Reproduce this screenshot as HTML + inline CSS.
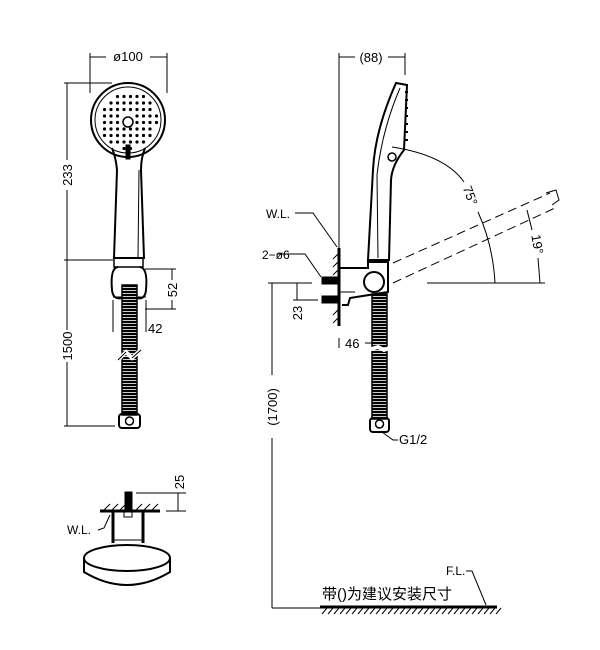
<!DOCTYPE html>
<html><head><meta charset="utf-8"><style>
html,body{margin:0;padding:0;background:#fff;width:600px;height:650px;overflow:hidden}
svg{display:block}
text{font-family:"Liberation Sans","Noto Sans CJK SC",sans-serif;fill:#000}
</style></head><body>
<svg id="s" width="600" height="650" viewBox="0 0 600 650" xmlns="http://www.w3.org/2000/svg">
<defs>
<pattern id="coil" width="4" height="3" patternUnits="userSpaceOnUse"><rect width="4" height="3" fill="#fff"/><rect y="0" width="4" height="2.2" fill="#000"/></pattern>
</defs>
<g fill="none" stroke="#000" stroke-width="1">
<line x1="90" y1="53" x2="90" y2="93"/><line x1="167" y1="53" x2="167" y2="93"/>
<line x1="90" y1="57" x2="106" y2="57"/><line x1="150" y1="57" x2="167" y2="57"/>
<line x1="67" y1="83" x2="67" y2="160"/><line x1="67" y1="190" x2="67" y2="330"/><line x1="67" y1="362" x2="67" y2="426"/>
<line x1="64" y1="83" x2="112" y2="83"/><line x1="64" y1="260" x2="113" y2="260"/><line x1="64" y1="426" x2="115" y2="426"/>
<line x1="145" y1="269" x2="176" y2="269"/><line x1="145" y1="309" x2="176" y2="309"/><line x1="172" y1="269" x2="172" y2="280"/><line x1="172" y1="300" x2="172" y2="309"/>
<line x1="113" y1="300" x2="113" y2="332"/><line x1="146" y1="300" x2="146" y2="332"/>
<circle cx="128" cy="120" r="37" stroke-width="2"/>
<circle cx="128" cy="120" r="33"/>
<circle cx="128" cy="122" r="5" stroke-width="1.5"/>
<rect x="126" y="145" width="4" height="14" fill="#000"/>
<path d="M112,148 Q116,158 117,170 L114,258 L144,258 L141,170 Q141,158 145,148" stroke-width="2"/>
<line x1="139" y1="170" x2="138" y2="258"/>
<rect x="114" y="258" width="29" height="9" stroke-width="1.5"/>
<path d="M118,267 Q110,268 112,290 Q113,300 122,298" stroke-width="2"/>
<path d="M140,267 Q148,268 146,290 Q145,300 137,298" stroke-width="2"/>
<line x1="113" y1="297" x2="146" y2="297"/>
<rect x="122" y="285" width="15" height="130" fill="url(#coil)" stroke-width="1.5"/>
<path d="M118,360 L126,352 L132,358 L141,350" stroke="#fff" stroke-width="4"/>
<path d="M118,360 L126,352 M132,358 L141,350"/>
<rect x="119" y="414" width="21" height="14" rx="3" stroke-width="2"/>
<circle cx="129.5" cy="421" r="4" stroke-width="1.5"/>

<line x1="100" y1="511" x2="160" y2="511" stroke-width="3"/>
<path d="M104,510 l6,-6 M112,510 l6,-6 M120,510 l6,-6 M136,510 l6,-6 M144,510 l6,-6 M152,510 l6,-6"/>
<rect x="125" y="492" width="7" height="22" fill="#000"/>
<rect x="124" y="512" width="8" height="5" fill="#fff"/>
<line x1="113" y1="512" x2="113" y2="543" stroke-width="3"/><line x1="143" y1="512" x2="143" y2="543" stroke-width="3"/>
<line x1="114" y1="540" x2="143" y2="540"/>
<ellipse cx="127" cy="558" rx="43" ry="13" stroke-width="2" fill="#fff"/>
<path d="M84,558 L84,572 Q127,598 170,572 L170,558" stroke-width="2"/>
<line x1="136" y1="493" x2="186" y2="493"/><line x1="166" y1="511" x2="186" y2="511"/><line x1="178" y1="493" x2="178" y2="511"/>
<path d="M98,530 L104,528 L110,515"/>

<line x1="339" y1="53" x2="339" y2="270"/><line x1="405" y1="53" x2="405" y2="75"/>
<line x1="339" y1="57" x2="355" y2="57"/><line x1="388" y1="57" x2="405" y2="57"/>
<line x1="339" y1="248" x2="339" y2="326" stroke-width="3"/>
<path d="M338,254 l-5,5 M338,262 l-5,5 M338,270 l-5,5 M338,310 l-5,5 M338,318 l-5,5"/>
<path d="M396,83 L407,85 L404,150 Q392,165 391,180 L389,260 L368,260 L373,170 Q375,130 396,83 Z" stroke-width="2"/>
<path d="M400,88 Q382,130 377,175 L378,258"/>
<path d="M405,92 l3,0 M405,100 l3,0 M405,108 l3,0 M405,116 l3,0 M405,124 l3,0 M405,132 l3,0 M405,140 l3,0" stroke-width="2"/>
<circle cx="392" cy="157" r="4" stroke-width="1.5"/>
<path d="M339,268 L368,268 L368,262 L388,262 L388,292 L350,298 L348,305 L342,305" stroke-width="2"/>
<circle cx="374" cy="282" r="10" stroke-width="2" fill="#fff"/>
<rect x="322" y="277" width="17" height="7" fill="#000"/><rect x="322" y="296" width="17" height="7" fill="#000"/>
<line x1="339" y1="292" x2="355" y2="292"/>
<rect x="372" y="294" width="15" height="125" fill="url(#coil)" stroke-width="1.5"/>
<path d="M368,350 L378,347 L384,350 L392,347" stroke="#fff" stroke-width="4"/>
<rect x="370" y="418" width="19" height="14" rx="3" stroke-width="2"/>
<circle cx="379.5" cy="424" r="4" stroke-width="1.5"/>
<path d="M382,432 L393,440 L398,440"/>
<g stroke-dasharray="9,5">
<line x1="393" y1="263" x2="550" y2="193"/>
<line x1="393" y1="283" x2="555" y2="208"/>
</g>
<path d="M546,193 L556,190 L559,200 L552,205"/>
<line x1="427" y1="283" x2="545" y2="283"/>
<path d="M392,147 Q445,155 464,182"/>
<path d="M478,212 Q493,245 495,283"/>
<line x1="527" y1="210" x2="532" y2="230"/><line x1="538" y1="258" x2="540" y2="283"/>
<path d="M295,213 L313,213 L337,247"/>
<path d="M277,254 L305,254 L321,277"/>
<line x1="268" y1="283" x2="312" y2="283"/><line x1="293" y1="300" x2="318" y2="300"/>
<line x1="297" y1="283" x2="297" y2="300"/>
<line x1="339" y1="338" x2="339" y2="348"/><line x1="365" y1="343" x2="372" y2="343"/>
<line x1="272" y1="283" x2="272" y2="375"/><line x1="272" y1="438" x2="272" y2="608"/>
<line x1="272" y1="608" x2="320" y2="608"/>
<line x1="320" y1="607" x2="497" y2="607" stroke-width="3"/>
<path d="M466,571 L472,571 L486,605"/>
</g>
<g id="dots" fill="#000"></g>
<g id="hatch" stroke="#000" stroke-width="1"></g>
<text x="128" y="61" font-size="13" text-anchor="middle">ø100</text>
<text transform="translate(72,175) rotate(-90)" font-size="13" text-anchor="middle">233</text>
<text transform="translate(72,346) rotate(-90)" font-size="13" text-anchor="middle">1500</text>
<text transform="translate(177,290) rotate(-90)" font-size="13" text-anchor="middle">52</text>
<text x="148" y="333" font-size="13">42</text>
<text transform="translate(184,482) rotate(-90)" font-size="13" text-anchor="middle">25</text>
<text x="67" y="534" font-size="12">W.L.</text>
<text x="371" y="62" font-size="13" text-anchor="middle">(88)</text>
<text x="266" y="218" font-size="12">W.L.</text>
<text x="262" y="259" font-size="12">2−ø6</text>
<text transform="translate(302,313) rotate(-90)" font-size="13" text-anchor="middle">23</text>
<text x="345" y="348" font-size="13">46</text>
<text transform="translate(277,407) rotate(-90)" font-size="13" text-anchor="middle">(1700)</text>
<text x="399" y="444" font-size="13">G1/2</text>
<text transform="translate(466,197) rotate(70)" font-size="13" text-anchor="middle">75°</text>
<text transform="translate(533,245) rotate(80)" font-size="13" text-anchor="middle">19°</text>
<text x="446" y="575" font-size="12">F.L.</text>
<text x="322" y="599" font-size="15">带()为建议安装尺寸</text>
<script>
var d=document.getElementById('dots'),ns='http://www.w3.org/2000/svg';
for(var x=-30;x<=30;x+=6.5)for(var y=-30;y<=30;y+=6.5){var r=Math.hypot(x,y);if(r<29&&r>8){var c=document.createElementNS(ns,'circle');c.setAttribute('cx',128+x);c.setAttribute('cy',120+y);c.setAttribute('r',1.6);d.appendChild(c);}}
var h=document.getElementById('hatch');
for(var i=322;i<497;i+=6){var l=document.createElementNS(ns,'line');l.setAttribute('x1',i);l.setAttribute('y1',614);l.setAttribute('x2',i+5);l.setAttribute('y2',608);h.appendChild(l);}
</script>
</svg>
</body></html>
